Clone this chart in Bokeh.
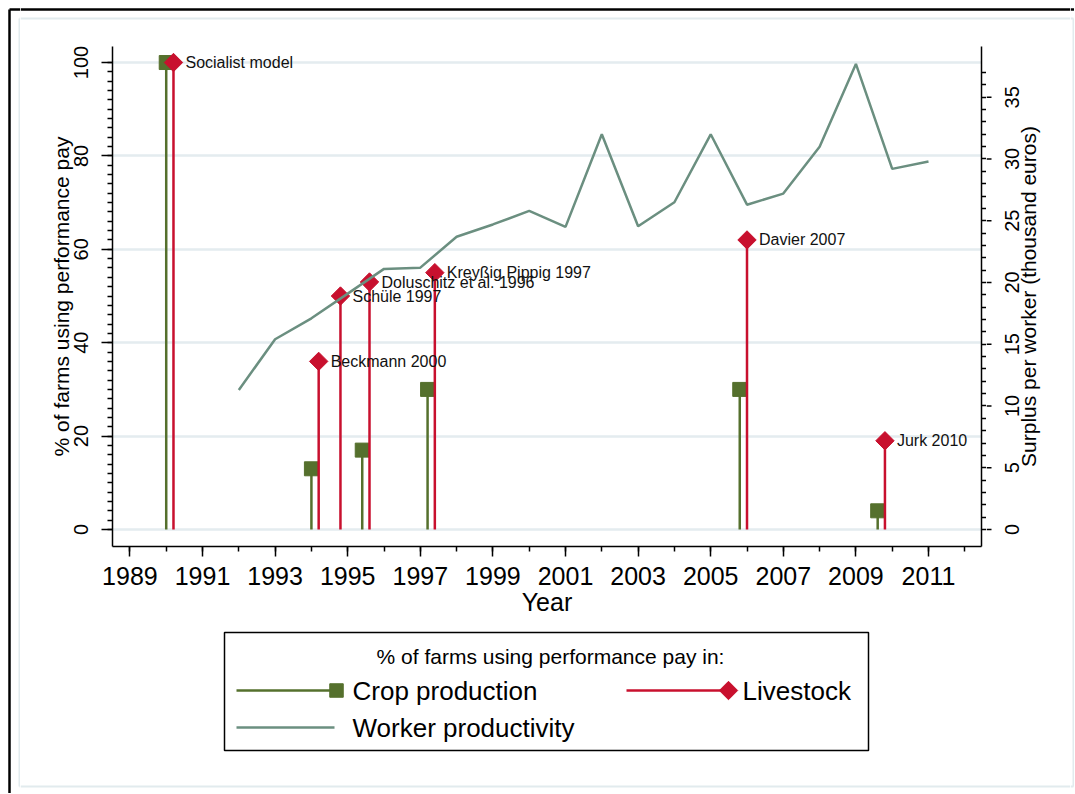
import math
from bokeh.plotting import figure
from bokeh.layouts import row, column
from bokeh.models import Range1d, FixedTicker, ColumnDataSource, LinearAxis
from bokeh.core.properties import value
from bokeh.embed import file_html
from bokeh.resources import INLINE

# ---------------- data ----------------
crop_years = [1990.0, 1994.0, 1995.4, 1997.2, 2005.8, 2009.6]
crop_pct = [100, 13, 17, 30, 30, 4]

live_years = [1990.2, 1994.2, 1994.8, 1995.6, 1997.4, 2006.0, 2009.8]
live_pct = [100, 36, 50, 53, 55, 62, 19]
live_labels = ["Socialist model", "Beckmann 2000", "Schüle 1997",
               "Doluschitz et al. 1996", "Kreyßig Pippig 1997",
               "Davier 2007", "Jurk 2010"]

prod_years = list(range(1992, 2012))
prod_surplus = [11.3, 15.4, 17.1, 19.1, 21.1, 21.2, 23.7, 24.7, 25.8, 24.5,
                32.0, 24.55, 26.5, 32.0, 26.3, 27.2, 31.0, 37.7, 29.2, 29.8]

year_ticks = list(range(1989, 2012, 2))
year_minor = list(range(1989, 2013))
pct_ticks = [0, 20, 40, 60, 80, 100]
pct_minor = list(range(0, 101, 2))
surplus_ticks = [0, 5, 10, 15, 20, 25, 30, 35]
surplus_minor = list(range(0, 38))
surplus_tick_labels = [str(t) for t in surplus_ticks]

x_title = "Year"
y_title = "% of farms using performance pay"
y2_title = "Surplus per worker (thousand euros)"
legend_title = "% of farms using performance pay in:"
legend_names = ["Crop production", "Livestock", "Worker productivity"]

# axis extents
X_LO, X_HI = 1988.52, 2012.46
Y_LO, Y_HI = -3.64, 103.43
S_LO, S_HI = -1.38, 39.11

# ---------------- style ----------------
GREEN = "#55702d"
RED = "#c8102e"
TEAL = "#6b8f80"
GRID = "#e4ecef"
EDGE = "#e2ebee"
FONT = "Liberation Sans"

# ---------------- page geometry (picture px) ----------------
TOTAL_W, TOTAL_H = 1074, 793
LW, RW, TH = 20, 4, 30          # left / right / top decoration strips
MW = TOTAL_W - LW - RW          # middle column width (1050)
PH = 600                        # main plot height (y 30..630)
B_LEFT, B_RIGHT, B_TOP, B_BOTTOM = 92, 5, 16, 84
PW = B_LEFT + 869 + B_RIGHT     # main plot width (x 20..986)
RTW = MW - PW                   # right-axis label strip (x 986..1070)


def no_align(f):
    if "frame_align" in f.properties():
        f.frame_align = False
    return f


def strip(x0, x1, y0, y1):
    f = figure(width=int(x1 - x0), height=int(y1 - y0), output_backend="svg",
               toolbar_location=None, x_range=Range1d(x0, x1), y_range=Range1d(y1, y0),
               x_axis_location=None, y_axis_location=None, min_border=0,
               background_fill_color="white", border_fill_color="white")
    f.outline_line_color = None
    f.grid.visible = False
    return no_align(f)


# ---------------- main plot ----------------
p = figure(width=PW, height=PH, output_backend="svg", toolbar_location=None,
           x_range=Range1d(X_LO, X_HI), y_range=Range1d(Y_LO, Y_HI),
           min_border_left=B_LEFT, min_border_right=B_RIGHT,
           min_border_top=B_TOP, min_border_bottom=B_BOTTOM,
           background_fill_color="white", border_fill_color="white")
no_align(p)
p.outline_line_color = None
surplus_range = Range1d(S_LO, S_HI)
p.extra_y_ranges = {"surplus": surplus_range}

raxis = LinearAxis(y_range_name="surplus")
p.add_layout(raxis, "right")

xaxis = p.xaxis[0]
yaxis = p.yaxis[0]

for ax in (xaxis, yaxis, raxis):
    ax.axis_line_color = "black"
    ax.axis_line_width = 1.5
    ax.major_tick_line_color = "black"
    ax.minor_tick_line_color = "black"
    ax.major_tick_line_width = 1.5
    ax.minor_tick_line_width = 1.5
    ax.major_tick_in = 0
    ax.major_tick_out = 10
    ax.minor_tick_in = 0
    ax.minor_tick_out = 5
    ax.major_label_text_font = FONT
    ax.major_label_text_color = "black"
    ax.axis_label_text_font = FONT
    ax.axis_label_text_font_style = "normal"
    ax.axis_label_text_color = "black"

xaxis.ticker = FixedTicker(ticks=year_ticks, minor_ticks=year_minor)
xaxis.major_label_text_font_size = "25px"
xaxis.axis_label = x_title
xaxis.axis_label_text_font_size = "25px"
xaxis.major_label_standoff = 10
xaxis.axis_label_standoff = 0

yaxis.ticker = FixedTicker(ticks=pct_ticks, minor_ticks=pct_minor)
yaxis.major_tick_out = 11
yaxis.major_label_text_font_size = "20px"
yaxis.major_label_orientation = "vertical"
yaxis.axis_label = y_title
yaxis.axis_label_text_font_size = "21px"
yaxis.major_label_standoff = 13
yaxis.axis_label_standoff = -1

# right axis: the line and the short ticks live here; the long ticks' outer half,
# the labels and the title are drawn in the strip beside it on the same scale
raxis.ticker = FixedTicker(ticks=[], minor_ticks=surplus_minor)
raxis.major_tick_out = 0
raxis.major_label_standoff = 0

p.xgrid.visible = False
p.ygrid.ticker = FixedTicker(ticks=pct_ticks)
p.ygrid.grid_line_color = GRID
p.ygrid.grid_line_width = 2.5

crop_src = ColumnDataSource(dict(x=crop_years, y=crop_pct, y0=[0] * len(crop_years)))
live_src = ColumnDataSource(dict(x=live_years, y=live_pct, y0=[0] * len(live_years),
                                 lab=live_labels))
prod_src = ColumnDataSource(dict(x=prod_years, y=prod_surplus))

p.segment(x0="x", y0="y0", x1="x", y1="y", source=crop_src, line_color=GREEN, line_width=2.5)
p.scatter("x", "y", source=crop_src, marker="square", size=14, fill_color=GREEN, line_color=GREEN)

p.segment(x0="x", y0="y0", x1="x", y1="y", source=live_src, line_color=RED, line_width=2.5)
p.scatter("x", "y", source=live_src, marker="square", angle=math.pi / 4, size=13,
          fill_color=RED, line_color=RED)
p.text("x", "y", text="lab", source=live_src, x_offset=12, text_baseline="middle",
       text_align="left", text_font=value(FONT), text_font_size="16px", text_color="#111111")

p.line("x", "y", source=prod_src, y_range_name="surplus", line_color=TEAL, line_width=2.5)

# ---------------- right-axis label strip (shares the surplus scale) ----------------
x0_rt = LW + PW
rt = figure(width=RTW, height=PH, output_backend="svg", toolbar_location=None,
            x_range=Range1d(x0_rt, x0_rt + RTW), y_range=surplus_range,
            x_axis_location=None, y_axis_location=None,
            min_border_left=0, min_border_right=0, min_border_top=B_TOP,
            min_border_bottom=B_BOTTOM,
            background_fill_color="white", border_fill_color="white")
no_align(rt)
rt.outline_line_color = None
rt.grid.visible = False
rt.segment(x0=[x0_rt] * len(surplus_ticks), y0=surplus_ticks,
           x1=[x0_rt + 5] * len(surplus_ticks), y1=surplus_ticks,
           line_color="black", line_width=1.5)
rt.text(x=[1011] * len(surplus_ticks), y=surplus_ticks, text=surplus_tick_labels,
        angle=math.pi / 2, text_align="center", text_baseline="middle",
        text_font=value(FONT), text_font_size="20px", text_color="black")
rt.text(x=[1028], y=[(S_LO + S_HI) / 2], text=[y2_title], angle=math.pi / 2,
        text_align="center", text_baseline="middle",
        text_font=value(FONT), text_font_size="21px", text_color="black")

# ---------------- decoration strips (picture coordinates) ----------------
L = strip(0, LW, 0, TOTAL_H)
L.segment(x0=[9, 9, 19, 19, 19], y0=[9, 9, 18, 18, 786], x1=[9, LW, 19, LW, LW],
          y1=[TOTAL_H, 9, 786, 18, 786],
          line_color=["black", "black", EDGE, EDGE, EDGE], line_width=[2.5, 2.5, 2, 2, 2])

T = strip(LW, LW + MW, 0, TH)
T.segment(x0=[LW, LW], y0=[9, 18], x1=[LW + MW, LW + MW], y1=[9, 18],
          line_color=["black", EDGE], line_width=[2.5, 2])

R = strip(LW + MW, TOTAL_W, 0, TOTAL_H)
R.segment(x0=[LW + MW, LW + MW, 1073, LW + MW], y0=[9, 18, 18, 786],
          x1=[TOTAL_W, 1073, 1073, 1073], y1=[9, 18, 786, 786],
          line_color=["black", EDGE, EDGE, EDGE], line_width=[2.5, 2, 2, 2])

# ---------------- legend strip ----------------
q = strip(LW, LW + MW, TH + PH, TOTAL_H)
q.segment(x0=[LW], y0=[786], x1=[LW + MW], y1=[786], line_color=EDGE, line_width=2)
q.quad(left=[224], right=[868], top=[632], bottom=[750], fill_color=None,
       line_color="black", line_width=1.5)
q.text(x=[550], y=[656], text=[legend_title], text_align="center", text_baseline="middle",
       text_font=value(FONT), text_font_size="21px", text_color="black")
q.segment(x0=[236, 626, 236], y0=[690, 690, 727], x1=[336, 728, 334], y1=[690, 690, 727],
          line_color=[GREEN, RED, TEAL], line_width=2.5)
q.scatter(x=[336], y=[690], marker="square", size=13.5, fill_color=GREEN, line_color=GREEN)
q.scatter(x=[728], y=[690], marker="square", angle=math.pi / 4, size=13,
          fill_color=RED, line_color=RED)
q.text(x=[352, 742, 352], y=[690, 690, 727], text=legend_names, text_align="left",
       text_baseline="middle", text_font=value(FONT), text_font_size="26px", text_color="black")

layout = row(L, column(T, row(p, rt), q), R)
open("out.html", "w").write(file_html(layout, INLINE))
